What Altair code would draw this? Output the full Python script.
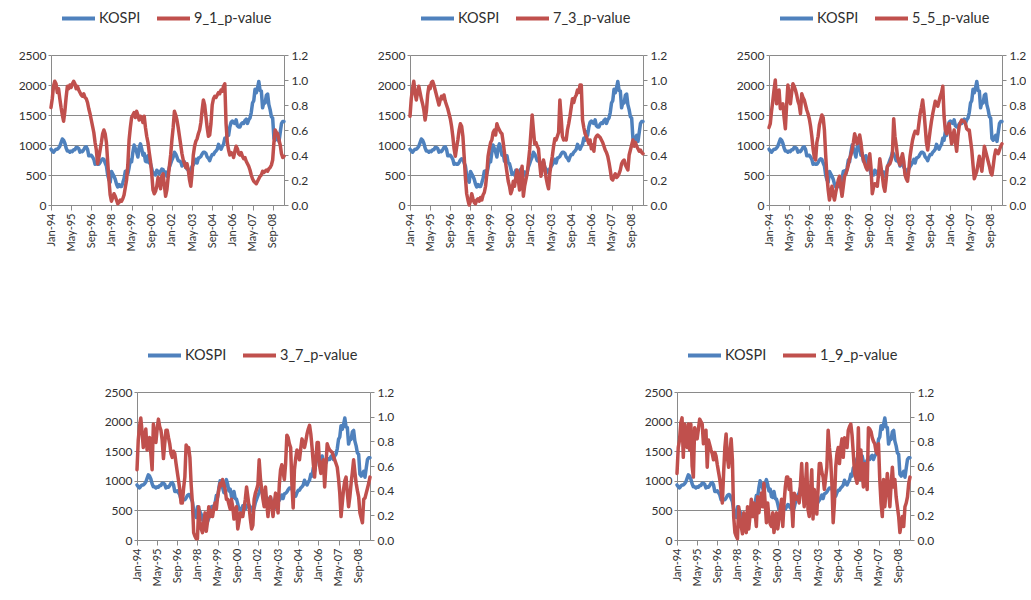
import altair as alt
import pandas as pd

# ---- data -----------------------------------------------------------------
N_MONTHS = 186  # Jan-94 .. Jun-09, monthly
TICK_STEP = 16
TICK_LABELS = ["Jan-94", "May-95", "Sep-96", "Jan-98", "May-99", "Sep-00",
               "Jan-02", "May-03", "Sep-04", "Jan-06", "May-07", "Sep-08"]

KOSPI = [
    930, 900, 880, 910, 930, 930, 950, 980, 1040, 1100, 1080, 1030,
    950, 900, 900, 880, 900, 890, 920, 920, 960, 960, 940, 880,
    900, 890, 920, 960, 970, 930, 820, 820, 830, 800, 760, 680,
    690, 680, 680, 710, 750, 770, 760, 700, 650, 500, 420, 380,
    560, 520, 480, 430, 350, 300, 340, 310, 310, 370, 440, 560,
    570, 520, 620, 750, 720, 880, 1000, 940, 880, 800, 960, 1020,
    940, 830, 860, 730, 720, 820, 700, 690, 610, 510, 530, 500,
    580, 560, 520, 560, 600, 590, 540, 550, 480, 540, 630, 690,
    750, 800, 880, 850, 800, 740, 730, 720, 650, 670, 720, 630,
    600, 580, 540, 600, 640, 670, 710, 760, 700, 780, 790, 810,
    850, 880, 880, 860, 800, 780, 740, 800, 840, 840, 880, 900,
    930, 1010, 970, 930, 980, 1010, 1110, 1080, 1220, 1160, 1300, 1380,
    1400, 1370, 1360, 1420, 1320, 1300, 1300, 1350, 1370, 1360, 1410, 1430,
    1360, 1420, 1450, 1540, 1700, 1740, 1930, 1870, 1950, 2060, 1910, 1900,
    1620, 1710, 1700, 1830, 1850, 1670, 1590, 1470, 1450, 1110, 1080, 1120,
    1160, 1060, 1210, 1360, 1390, 1390,
]

PV_9_1 = [
    0.78, 0.85, 0.95, 0.99, 0.97, 0.90, 0.93, 0.85, 0.78, 0.72, 0.67, 0.75,
    0.86, 0.95, 0.93, 0.96, 0.94, 0.97, 0.99, 0.97, 0.93, 0.95, 0.92, 0.90,
    0.88, 0.87, 0.89, 0.86, 0.85, 0.82, 0.77, 0.73, 0.68, 0.63, 0.58, 0.50,
    0.44, 0.33, 0.38, 0.44, 0.50, 0.57, 0.60, 0.57, 0.50, 0.35, 0.20, 0.08,
    0.03, 0.06, 0.09, 0.07, 0.04, 0.01, 0.02, 0.04, 0.03, 0.05, 0.08, 0.14,
    0.20, 0.32, 0.52, 0.62, 0.70, 0.72, 0.74, 0.70, 0.75, 0.72, 0.68, 0.71,
    0.70, 0.66, 0.71, 0.62, 0.55, 0.50, 0.42, 0.35, 0.25, 0.12, 0.09, 0.11,
    0.15, 0.22, 0.20, 0.13, 0.23, 0.25, 0.16, 0.07, 0.12, 0.22, 0.31, 0.40,
    0.52, 0.62, 0.75, 0.72, 0.68, 0.62, 0.55, 0.48, 0.41, 0.36, 0.33, 0.30,
    0.33, 0.28, 0.20, 0.15, 0.25, 0.40, 0.47, 0.51, 0.53, 0.57, 0.60, 0.66,
    0.76, 0.84, 0.80, 0.71, 0.62, 0.55, 0.56, 0.65, 0.80, 0.85, 0.87, 0.86,
    0.88, 0.90, 0.89, 0.92, 0.91, 0.95, 0.97, 0.65, 0.50, 0.44, 0.40, 0.42,
    0.41, 0.38, 0.43, 0.47, 0.45, 0.41, 0.40, 0.42, 0.39, 0.37, 0.38, 0.35,
    0.33, 0.31, 0.28, 0.24, 0.21, 0.19, 0.18, 0.17, 0.19, 0.21, 0.23, 0.24,
    0.27, 0.26, 0.27, 0.28, 0.27, 0.29, 0.30, 0.32, 0.36, 0.50, 0.60, 0.58,
    0.57, 0.52, 0.48, 0.41, 0.38, 0.39,
]

PV_7_3 = [
    0.71, 0.85, 0.93, 0.99, 0.90, 0.84, 0.90, 0.95, 0.90, 0.85, 0.81, 0.76,
    0.68, 0.75, 0.88, 0.95, 0.93, 0.98, 0.99, 0.96, 0.92, 0.88, 0.84, 0.80,
    0.84, 0.87, 0.85, 0.88, 0.83, 0.80, 0.77, 0.73, 0.69, 0.63, 0.55, 0.45,
    0.39, 0.46, 0.52, 0.60, 0.65, 0.63, 0.55, 0.39, 0.22, 0.09, 0.04, 0.00,
    0.03, 0.09, 0.05, 0.02, 0.01, 0.04, 0.05, 0.03, 0.06, 0.04, 0.08, 0.10,
    0.15, 0.25, 0.39, 0.45, 0.50, 0.52, 0.58, 0.60, 0.56, 0.65, 0.62, 0.60,
    0.58, 0.57, 0.50, 0.42, 0.33, 0.26, 0.19, 0.15, 0.09, 0.12, 0.19, 0.15,
    0.22, 0.28, 0.20, 0.12, 0.25, 0.31, 0.07, 0.15, 0.20, 0.25, 0.34, 0.44,
    0.58, 0.72, 0.60, 0.49, 0.50, 0.47, 0.45, 0.33, 0.23, 0.30, 0.36, 0.30,
    0.22, 0.17, 0.13, 0.25, 0.33, 0.39, 0.47, 0.53, 0.52, 0.55, 0.58, 0.84,
    0.70, 0.55, 0.52, 0.53, 0.52, 0.60, 0.65, 0.71, 0.78, 0.85, 0.82, 0.86,
    0.88, 0.92, 0.90, 0.96, 0.96, 0.68, 0.62, 0.57, 0.55, 0.52, 0.49, 0.52,
    0.45, 0.48, 0.43, 0.53, 0.55, 0.56, 0.55, 0.54, 0.52, 0.50, 0.47, 0.44,
    0.42, 0.39, 0.34, 0.28, 0.21, 0.20, 0.23, 0.25, 0.22, 0.23, 0.25, 0.28,
    0.33, 0.35, 0.36, 0.32, 0.30, 0.28, 0.40, 0.44, 0.48, 0.52, 0.47, 0.50,
    0.47, 0.45, 0.43, 0.44, 0.42, 0.41,
]

PV_5_5 = [
    0.62, 0.65, 0.75, 0.83, 0.92, 1.00, 0.81, 0.85, 0.92, 0.77, 0.80, 0.81,
    0.70, 0.61, 0.80, 0.96, 0.88, 0.81, 0.90, 0.97, 0.95, 0.92, 0.88, 0.83,
    0.80, 0.73, 0.89, 0.86, 0.84, 0.80, 0.76, 0.73, 0.69, 0.63, 0.55, 0.45,
    0.38, 0.36, 0.50, 0.55, 0.64, 0.68, 0.72, 0.70, 0.60, 0.40, 0.23, 0.12,
    0.04, 0.10, 0.15, 0.08, 0.04, 0.10, 0.15, 0.20, 0.23, 0.14, 0.07, 0.15,
    0.23, 0.25, 0.28, 0.32, 0.37, 0.40, 0.44, 0.50, 0.57, 0.53, 0.49, 0.52,
    0.56, 0.50, 0.41, 0.36, 0.33, 0.30, 0.28, 0.33, 0.41, 0.30, 0.09, 0.14,
    0.17, 0.16, 0.15, 0.25, 0.37, 0.30, 0.23, 0.15, 0.11, 0.20, 0.31, 0.32,
    0.33, 0.36, 0.41, 0.69, 0.55, 0.48, 0.39, 0.35, 0.32, 0.37, 0.41, 0.35,
    0.24, 0.21, 0.19, 0.28, 0.39, 0.46, 0.52, 0.56, 0.59, 0.58, 0.57, 0.65,
    0.73, 0.78, 0.84, 0.75, 0.63, 0.50, 0.44, 0.52, 0.60, 0.67, 0.73, 0.78,
    0.83, 0.81, 0.79, 0.83, 0.87, 0.90, 0.95, 0.71, 0.60, 0.57, 0.61, 0.65,
    0.57, 0.49, 0.55, 0.60, 0.50, 0.43, 0.55, 0.63, 0.66, 0.68, 0.67, 0.67,
    0.65, 0.61, 0.60, 0.60, 0.52, 0.44, 0.32, 0.21, 0.24, 0.27, 0.33, 0.39,
    0.33, 0.27, 0.36, 0.47, 0.43, 0.39, 0.35, 0.31, 0.26, 0.24, 0.31, 0.39,
    0.44, 0.43, 0.41, 0.44, 0.47, 0.49,
]

PV_3_7 = [
    0.57, 0.81, 0.92, 0.99, 0.88, 0.75, 0.82, 0.90, 0.73, 0.80, 0.83, 0.70,
    0.57, 0.94, 0.85, 0.79, 0.90, 0.98, 0.92, 0.89, 0.81, 0.66, 0.78, 0.89,
    0.89, 0.83, 0.78, 0.70, 0.67, 0.72, 0.70, 0.62, 0.55, 0.48, 0.41, 0.30,
    0.30, 0.42, 0.51, 0.77, 0.75, 0.75, 0.67, 0.45, 0.30, 0.06, 0.03, 0.01,
    0.01, 0.27, 0.15, 0.09, 0.06, 0.14, 0.22, 0.07, 0.15, 0.27, 0.19, 0.24,
    0.19, 0.26, 0.30, 0.25, 0.35, 0.41, 0.46, 0.44, 0.49, 0.45, 0.41, 0.33,
    0.33, 0.29, 0.25, 0.33, 0.27, 0.17, 0.22, 0.27, 0.09, 0.15, 0.22, 0.19,
    0.19, 0.26, 0.33, 0.43, 0.35, 0.27, 0.17, 0.09, 0.12, 0.33, 0.38, 0.41,
    0.45, 0.65, 0.50, 0.41, 0.33, 0.27, 0.43, 0.30, 0.19, 0.32, 0.35, 0.28,
    0.19, 0.30, 0.38, 0.30, 0.22, 0.45, 0.57, 0.61, 0.55, 0.49, 0.62, 0.85,
    0.83, 0.78, 0.75, 0.45, 0.26, 0.57, 0.66, 0.73, 0.69, 0.65, 0.74, 0.82,
    0.78, 0.75, 0.80, 0.86, 0.90, 0.93, 0.86, 0.75, 0.62, 0.51, 0.65, 0.79,
    0.79, 0.60, 0.54, 0.62, 0.65, 0.43, 0.60, 0.78, 0.75, 0.73, 0.72, 0.71,
    0.68, 0.65, 0.62, 0.59, 0.50, 0.38, 0.19, 0.30, 0.41, 0.48, 0.51, 0.38,
    0.27, 0.35, 0.46, 0.55, 0.65, 0.55, 0.46, 0.40, 0.35, 0.22, 0.18, 0.14,
    0.33, 0.34, 0.38, 0.42, 0.46, 0.51,
]

PV_1_9 = [
    0.54, 0.75, 0.81, 0.95, 0.99, 0.67, 0.94, 0.80, 0.75, 0.94, 0.73, 0.94,
    0.60, 0.51, 0.91, 0.87, 0.82, 0.90, 0.98, 0.96, 0.94, 0.78, 0.85, 0.89,
    0.59, 0.81, 0.77, 0.73, 0.70, 0.65, 0.71, 0.68, 0.61, 0.55, 0.49, 0.40,
    0.30, 0.54, 0.75, 0.86, 0.67, 0.59, 0.70, 0.82, 0.65, 0.19, 0.06, 0.03,
    0.01, 0.27, 0.18, 0.11, 0.05, 0.22, 0.10, 0.06, 0.27, 0.09, 0.20, 0.33,
    0.19, 0.30, 0.22, 0.11, 0.35, 0.22, 0.30, 0.38, 0.27, 0.46, 0.30, 0.14,
    0.30, 0.19, 0.13, 0.11, 0.22, 0.06, 0.15, 0.22, 0.09, 0.17, 0.25, 0.33,
    0.11, 0.30, 0.43, 0.51, 0.51, 0.41, 0.49, 0.30, 0.11, 0.38, 0.36, 0.33,
    0.35, 0.30, 0.45, 0.62, 0.38, 0.27, 0.45, 0.62, 0.25, 0.19, 0.40, 0.57,
    0.17, 0.41, 0.30, 0.21, 0.41, 0.62, 0.62, 0.55, 0.51, 0.41, 0.50, 0.59,
    0.89, 0.75, 0.65, 0.45, 0.14, 0.30, 0.59, 0.70, 0.75, 0.62, 0.75, 0.82,
    0.67, 0.83, 0.78, 0.75, 0.89, 0.92, 0.94, 0.85, 0.70, 0.54, 0.50, 0.46,
    0.91, 0.49, 0.73, 0.55, 0.43, 0.62, 0.50, 0.41, 0.91, 0.90, 0.88, 0.83,
    0.80, 0.78, 0.72, 0.70, 0.78, 0.49, 0.30, 0.19, 0.49, 0.27, 0.40, 0.54,
    0.41, 0.27, 0.45, 0.59, 0.43, 0.49, 0.35, 0.27, 0.19, 0.06, 0.13, 0.19,
    0.11, 0.27, 0.30, 0.35, 0.46, 0.51,
]

SERIES_NAMES = ["9_1_p-value", "7_3_p-value", "5_5_p-value", "3_7_p-value", "1_9_p-value"]
SERIES_VALUES = [PV_9_1, PV_7_3, PV_5_5, PV_3_7, PV_1_9]

# ---- styling --------------------------------------------------------------
BLUE = "#4F81BD"
RED = "#C0504D"
GRID = "#8a8a8a"
TEXT = "#303030"
FONT = "Lato"

PLOT_W = 233
TOP_H = 150
BOT_H = 148

label_expr = "[" + ",".join(f"'{t}'" for t in TICK_LABELS) + f"][round(datum.value / {TICK_STEP})]"


def panel(name, pvals, height):
    df = pd.DataFrame({"month": list(range(N_MONTHS)), "KOSPI": KOSPI, "pvalue": pvals})
    base = alt.Chart(df)

    x = alt.X(
        "month:Q",
        scale=alt.Scale(domain=[0, N_MONTHS - 1], nice=False, zero=False),
        axis=alt.Axis(
            title=None,
            values=[i * TICK_STEP for i in range(len(TICK_LABELS))],
            labelExpr=label_expr,
            labelAngle=270,
            labelFontSize=11,
            labelPadding=3,
            tickSize=5,
            grid=False,
        ),
    )
    colour = alt.Scale(domain=["KOSPI", name], range=[BLUE, RED])
    legend = alt.Legend(
        title=None,
        orient="none",
        direction="horizontal",
        legendX=9,
        legendY=-55,
        symbolType="stroke",
        symbolSize=1089,
        symbolStrokeWidth=4,
        labelFontSize=14.5,
        labelColor=TEXT,
        labelFont=FONT,
        labelOffset=2,
        columnPadding=14,
    )
    colour_enc = alt.Color("series:N", scale=colour, legend=legend)

    kospi = (
        base.transform_calculate(series="'KOSPI'")
        .mark_line(strokeWidth=3.5)
        .encode(
            x=x,
            y=alt.Y(
                "KOSPI:Q",
                scale=alt.Scale(domain=[0, 2500], nice=False),
                axis=alt.Axis(
                    title=None,
                    values=[0, 500, 1000, 1500, 2000, 2500],
                    format="d",
                    grid=True,
                    tickSize=3,
                    labelPadding=2,
                    labelFontSize=12,
                ),
            ),
            color=colour_enc,
        )
    )
    pv = (
        base.transform_calculate(series=f"'{name}'")
        .mark_line(strokeWidth=3.5)
        .encode(
            x=x,
            y=alt.Y(
                "pvalue:Q",
                scale=alt.Scale(domain=[0, 1.2], nice=False),
                axis=alt.Axis(
                    title=None,
                    orient="right",
                    values=[0, 0.2, 0.4, 0.6, 0.8, 1.0, 1.2],
                    format=".1f",
                    grid=False,
                    tickSize=4,
                    labelPadding=3,
                    labelFontSize=12,
                ),
            ),
            color=colour_enc,
        )
    )
    return (
        alt.layer(kospi, pv)
        .resolve_scale(y="independent")
        .properties(width=PLOT_W, height=height)
    )


panels = [
    panel(n, v, TOP_H if i < 3 else BOT_H)
    for i, (n, v) in enumerate(zip(SERIES_NAMES, SERIES_VALUES))
]

indep = dict(x="independent", y="independent", color="independent")

top_row = alt.hconcat(*panels[:3], spacing=126, bounds="flush").resolve_scale(**indep)

spacer = (
    alt.Chart(pd.DataFrame({"v": [0]}))
    .mark_point(opacity=0)
    .encode(x=alt.value(0), y=alt.value(0))
    .properties(width=86, height=BOT_H)
)
bottom_pair = alt.hconcat(*panels[3:], spacing=307, bounds="flush").resolve_scale(**indep)
bottom_row = alt.hconcat(spacer, bottom_pair, spacing=0, bounds="flush").resolve_scale(**indep)

# the nested row groups report no height of their own under flush bounds,
# so the row gap is measured from the top of the first row
chart = (
    alt.vconcat(top_row, bottom_row, spacing=TOP_H + 187, bounds="flush")
    .resolve_scale(**indep)
    .properties(padding={"left": 18, "top": 0, "right": 0, "bottom": 0})
    .configure(font=FONT)
    .configure_view(stroke=None)
    .configure_axis(
        domainColor=GRID,
        tickColor=GRID,
        gridColor=GRID,
        gridOpacity=1,
        labelColor=TEXT,
        labelFont=FONT,
    )
    .configure_line(strokeJoin="round", strokeCap="round")
)

chart.save("out.html", embed_options={"renderer": "svg", "actions": False})
